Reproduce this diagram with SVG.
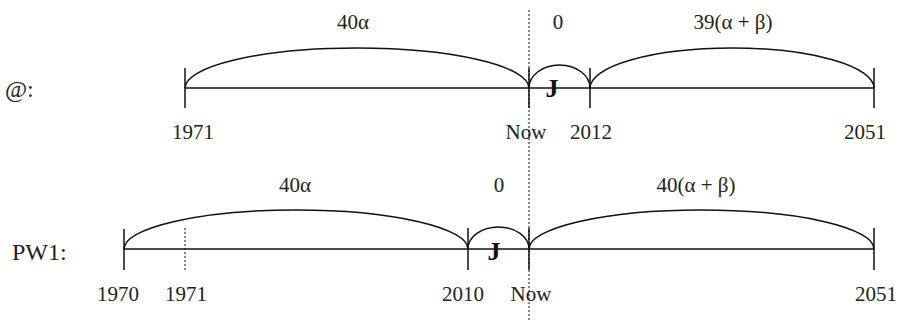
<svg xmlns="http://www.w3.org/2000/svg" width="901" height="322" viewBox="0 0 901 322">
<style>
.t{font-family:"Liberation Serif","Times New Roman",serif;font-size:21px;fill:#222;}
.lab{font-size:24px;}
.m{text-anchor:middle;}
.b{font-weight:bold;font-size:26px;fill:#111;}
.ln{stroke:#111;stroke-width:1.5;fill:none;}
.arc{stroke:#111;stroke-width:1.5;fill:none;}
.dot{stroke:#111;stroke-width:1;stroke-dasharray:2,2;fill:none;}
</style>
<rect width="901" height="322" fill="#fff"/>
<g id="row-at">
<text class="t lab" x="5" y="97">@:</text>
<line class="ln" x1="185" y1="88" x2="874" y2="88"/>
<line class="ln" x1="185" y1="68" x2="185" y2="108"/>
<line class="ln" x1="529" y1="68" x2="529" y2="108"/>
<line class="ln" x1="590" y1="68" x2="590" y2="108"/>
<line class="ln" x1="874" y1="68" x2="874" y2="108"/>
<path class="arc" d="M185,88 A172,40 0 0 1 529,88"/>
<path class="arc" d="M529,88 A30.5,23 0 0 1 590,88"/>
<path class="arc" d="M590,88 A142,40 0 0 1 874,88"/>
<text class="t m" x="353" y="29">40α</text>
<text class="t m" x="558" y="29">0</text>
<text class="t m" x="733" y="29">39(α + β)</text>
<text class="t m b" x="552" y="97">J</text>
<text class="t m" x="193" y="139">1971</text>
<text class="t m" x="526" y="139">Now</text>
<text class="t m" x="591" y="139">2012</text>
<text class="t m" x="865" y="139">2051</text>
</g>
<g id="row-pw1">
<text class="t lab" x="12" y="260">PW1:</text>
<line class="ln" x1="124" y1="249" x2="874" y2="249"/>
<line class="ln" x1="124" y1="229" x2="124" y2="270"/>
<line class="dot" x1="185" y1="228" x2="185" y2="270"/>
<line class="ln" x1="468" y1="228" x2="468" y2="270"/>
<line class="ln" x1="529" y1="228" x2="529" y2="270"/>
<line class="ln" x1="874" y1="228" x2="874" y2="270"/>
<path class="arc" d="M124,249 A172,39 0 0 1 468,249"/>
<path class="arc" d="M468,249 A30.5,22 0 0 1 529,249"/>
<path class="arc" d="M529,249 A172.5,39 0 0 1 874,249"/>
<text class="t m" x="295" y="192">40α</text>
<text class="t m" x="499" y="192">0</text>
<text class="t m" x="696" y="192">40(α + β)</text>
<text class="t m b" x="494" y="260">J</text>
<text class="t m" x="118" y="301">1970</text>
<text class="t m" x="186" y="301">1971</text>
<text class="t m" x="463" y="301">2010</text>
<text class="t m" x="531" y="301">Now</text>
<text class="t m" x="876" y="301">2051</text>
</g>
<g id="connectors">
<line class="dot" x1="529" y1="10" x2="529" y2="320"/>
</g>
</svg>
